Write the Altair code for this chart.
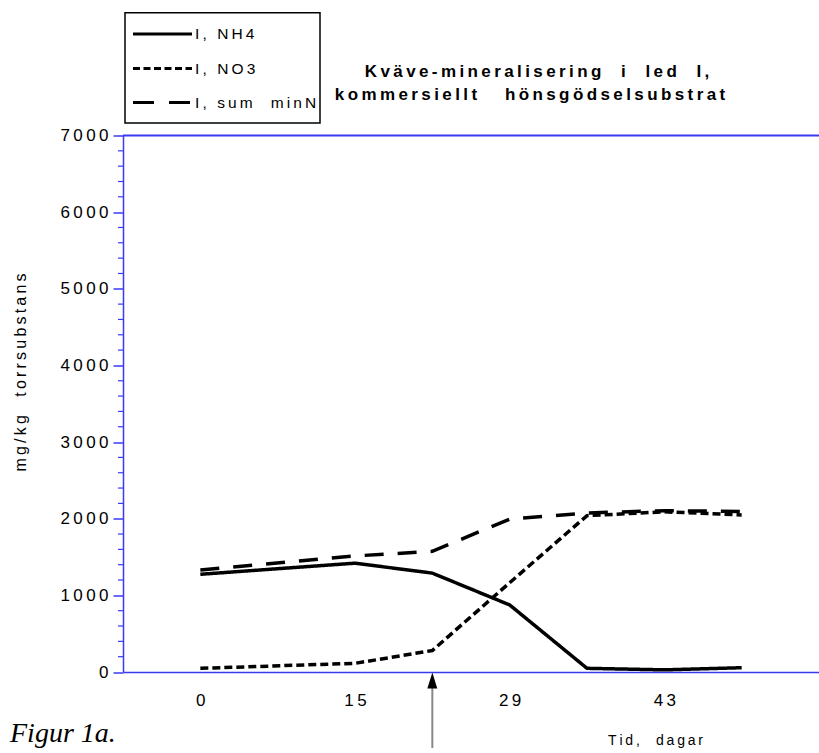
import altair as alt
import pandas as pd

# Sampling occasions placed on an evenly spaced index axis
sample_pos = [0, 2, 3, 4, 5, 6, 7]
nh4 = [1275, 1420, 1290, 875, 48, 28, 56]
no3 = [48, 113, 280, 1165, 2040, 2090, 2050]
sum_minn = [1332, 1514, 1575, 1995, 2075, 2105, 2095]

series_names = ["I, NH4", "I, NO3", "I, sum  minN"]
series_values = [nh4, no3, sum_minn]
dash_patterns = [[1, 0], [8, 4], [19, 14]]
legend_dashes = [[1, 0], [7, 3.5], [21, 15]]

tick_pos = [0, 2, 4, 6]
tick_labels = ["0", "15", "29", "43"]
y_major = list(range(0, 7001, 1000))
y_minor = [v for v in range(0, 7001, 200) if v % 1000]
arrow_pos = [3]

title_lines = ["Kväve-mineralisering  i  led  I,", "kommersiellt   hönsgödselsubstrat"]
y_title = "mg/kg  torrsubstans"
x_title = "Tid,  dagar"
caption = "Figur 1a."

W, H = 696, 536.5
BLUE = "#3a3af5"
FONT = "Liberation Sans"
TS = "\u2009"  # thin space used for the wide letter spacing


def spaced(s, sep=TS):
    return sep.join(s.replace("  ", "\u00a0\u00a0"))


rows = []
for name, vals in zip(series_names, series_values):
    for p, v in zip(sample_pos, vals):
        rows.append({"pos": p, "value": v, "series": name})
df = pd.DataFrame(rows)

x_label_expr = " : ".join(
    f"datum.value == {p} ? '{spaced(t)}'" for p, t in zip(tick_pos, tick_labels)
) + " : ''"

x_enc = alt.X(
    "pos:Q",
    scale=alt.Scale(domain=[-1, 8], nice=False, zero=False),
    axis=alt.Axis(
        values=tick_pos, labelExpr=x_label_expr, ticks=False, grid=False,
        domainColor=BLUE, domainWidth=1.5, labelPadding=20,
        title=spaced(x_title), titleX=532, titleY=72,
        titleAlign="center", titleBaseline="alphabetic",
    ),
)
y_enc = alt.Y(
    "value:Q",
    scale=alt.Scale(domain=[0, 7000], nice=False),
    axis=alt.Axis(
        values=y_major, format="d",
        labelExpr=f"join(split(datum.label, ''), '{TS}')",
        tickSize=10, tickColor=BLUE, tickWidth=1.5, domainColor=BLUE,
        domainWidth=1.5, grid=False, labelPadding=5,
        title=spaced(y_title), titleX=-98, titleY=236.5,
        titleAngle=270, titleAlign="center", titleBaseline="alphabetic",
        titleFontSize=16,
    ),
)

lines = alt.Chart(df).mark_line(color="black", strokeWidth=3.5, clip=False).encode(
    x=x_enc,
    y=y_enc,
    strokeDash=alt.StrokeDash(
        "series:N",
        scale=alt.Scale(domain=series_names, range=dash_patterns),
        legend=None,
    ),
)

# minor ticks on the value axis
minor = alt.Chart(pd.DataFrame({"value": y_minor})).mark_rule(
    color=BLUE, strokeWidth=1.2
).encode(y="value:Q", x=alt.value(-5), x2=alt.value(0))

# upper frame line at the top of the value range
top = alt.Chart(pd.DataFrame({"value": [7000]})).mark_rule(
    color=BLUE, strokeWidth=2
).encode(y="value:Q", x=alt.value(0), x2=alt.value(W))

# arrow marking the sampling occasion between 15 and 29
arrow_df = pd.DataFrame({"pos": arrow_pos})
arrow_shaft = alt.Chart(arrow_df).mark_rule(color="#888888", strokeWidth=2).encode(
    x="pos:Q", y=alt.value(549), y2=alt.value(612.5)
)
arrow_head = alt.Chart(arrow_df).mark_point(
    shape="M0,-1L0.62,1L-0.62,1Z", filled=True, color="black", opacity=1,
    size=256, strokeWidth=0,
).encode(x="pos:Q", y=alt.value(545))

# legend box
one = pd.DataFrame({"k": [0]})
legend_box = alt.Chart(one).mark_rect(
    fill="white", stroke="black", strokeWidth=1.5
).encode(x=alt.value(2), x2=alt.value(197), y=alt.value(-122.8), y2=alt.value(-12.5))

legend_layers = [legend_box]
row_y = [-101.5, -67, -33]
for name, dash, ry in zip(series_names, legend_dashes, row_y):
    legend_layers.append(
        alt.Chart(one).mark_rule(color="black", strokeWidth=3, strokeDash=dash).encode(
            x=alt.value(10), x2=alt.value(69), y=alt.value(ry)
        )
    )
    legend_layers.append(
        alt.Chart(one).mark_text(
            align="left", baseline="middle", font=FONT, fontSize=15.5, color="black"
        ).encode(x=alt.value(72), y=alt.value(ry), text=alt.value(spaced(name)))
    )

title_layers = []
for line, tx, ty in zip(title_lines, [414, 407], [-58.5, -35.5]):
    title_layers.append(
        alt.Chart(one).mark_text(
            align="center", baseline="alphabetic", font=FONT, fontSize=17,
            fontWeight="bold", color="black",
        ).encode(x=alt.value(tx), y=alt.value(ty), text=alt.value(spaced(line)))
    )

caption_text = alt.Chart(one).mark_text(
    align="left", baseline="alphabetic", font="Liberation Serif", fontSize=28,
    fontStyle="italic", color="black",
).encode(x=alt.value(-113), y=alt.value(606), text=alt.value(caption))

chart = alt.layer(
    lines, minor, top, arrow_shaft, arrow_head, *legend_layers, *title_layers,
    caption_text,
).properties(
    width=W, height=H,
    autosize=alt.AutoSizeParams(type="none"),
    padding={"left": 123, "top": 135.5, "right": 0, "bottom": 81},
).configure_view(strokeWidth=0).configure_axis(
    labelFont=FONT, titleFont=FONT, labelFontSize=17, titleFontSize=14,
    labelColor="black", titleColor="black", titleFontWeight="normal",
)

chart.save("out.html", embed_options={"renderer": "svg", "actions": False})
